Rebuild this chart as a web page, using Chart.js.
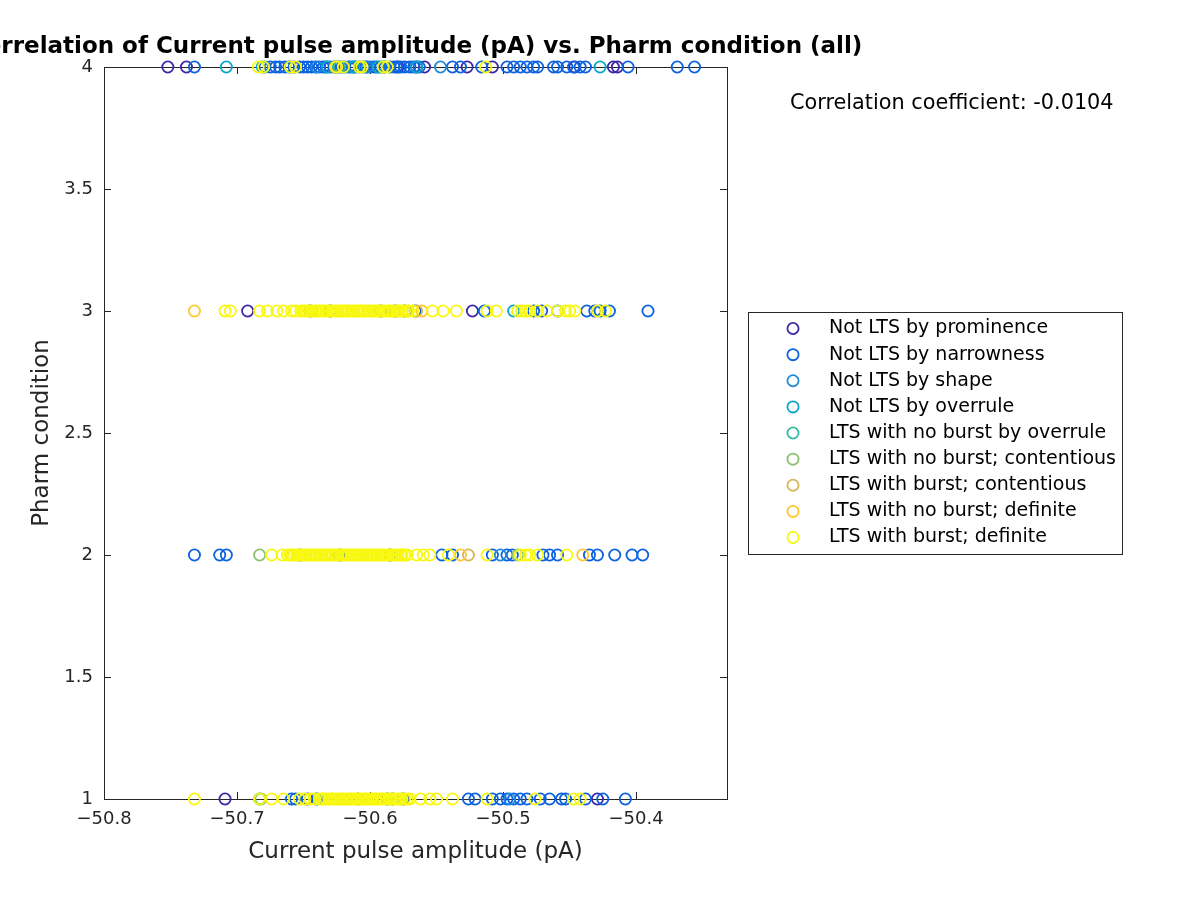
<!DOCTYPE html>
<html>
<head>
<meta charset="utf-8">
<script src="https://cdn.jsdelivr.net/npm/chart.js@4/dist/chart.umd.min.js"></script>
<style>
html,body{margin:0;padding:0;background:#fff;}
#c{display:block;}
</style>
</head>
<body>
<canvas id="c" width="1200" height="900"></canvas>
<script>
// ---------------- DATA ----------------
const seriesNames = [
  'Not LTS by prominence',
  'Not LTS by narrowness',
  'Not LTS by shape',
  'Not LTS by overrule',
  'LTS with no burst by overrule',
  'LTS with no burst; contentious',
  'LTS with burst; contentious',
  'LTS with no burst; definite',
  'LTS with burst; definite'
];
const xTicks = [-50.8, -50.7, -50.6, -50.5, -50.4];
const yTicks = [1, 1.5, 2, 2.5, 3, 3.5, 4];
const xMin = -50.8, xMax = -50.3316, yMin = 1, yMax = 4;
const correlationText = 'Correlation coefficient: -0.0104';

// points as [current pulse amplitude (pA), pharm condition]
const prominence = [
  [-50.752,4],[-50.738,4],[-50.579,4],[-50.565,4],[-50.559,4],[-50.527,4],[-50.508,4],[-50.446,4],[-50.417,4],[-50.414,4],
  [-50.692,3],[-50.523,3],
  [-50.709,1],[-50.429,1]
];
const narrowness = [
  [-50.732,4],[-50.679,4],[-50.675,4],[-50.671,4],[-50.668,4],[-50.664,4],[-50.661,4],[-50.657,4],[-50.653,4],[-50.650,4],
  [-50.647,4],[-50.644,4],[-50.641,4],[-50.638,4],[-50.635,4],[-50.633,4],[-50.630,4],[-50.627,4],[-50.624,4],[-50.621,4],
  [-50.619,4],[-50.616,4],[-50.613,4],[-50.611,4],[-50.608,4],[-50.605,4],[-50.603,4],[-50.600,4],[-50.597,4],[-50.595,4],
  [-50.592,4],[-50.589,4],[-50.585,4],[-50.582,4],[-50.580,4],[-50.577,4],[-50.574,4],[-50.570,4],[-50.567,4],[-50.563,4],
  [-50.538,4],[-50.532,4],[-50.516,4],[-50.497,4],[-50.492,4],[-50.487,4],
  [-50.482,4],[-50.477,4],[-50.474,4],[-50.462,4],[-50.459,4],[-50.452,4],[-50.447,4],[-50.442,4],[-50.438,4],[-50.406,4],
  [-50.369,4],[-50.356,4],
  [-50.645,3],[-50.630,3],[-50.592,3],[-50.581,3],[-50.574,3],[-50.566,3],[-50.514,3],[-50.477,3],[-50.471,3],[-50.459,3],
  [-50.437,3],[-50.431,3],[-50.427,3],[-50.420,3],[-50.391,3],
  [-50.732,2],[-50.713,2],[-50.708,2],[-50.653,2],[-50.623,2],[-50.585,2],[-50.546,2],[-50.538,2],[-50.508,2],[-50.497,2],
  [-50.493,2],[-50.470,2],[-50.465,2],[-50.459,2],[-50.435,2],[-50.429,2],[-50.416,2],[-50.403,2],[-50.395,2],
  [-50.659,1],[-50.656,1],[-50.647,1],[-50.640,1],[-50.587,1],[-50.583,1],[-50.575,1],[-50.526,1],[-50.521,1],[-50.508,1],
  [-50.502,1],[-50.497,1],[-50.492,1],[-50.487,1],[-50.482,1],[-50.472,1],[-50.465,1],[-50.456,1],[-50.453,1],[-50.438,1],
  [-50.425,1],[-50.408,1]
];
const shape = [
  [-50.660,4],[-50.640,4],[-50.626,4],[-50.615,4],[-50.602,4],[-50.590,4],[-50.547,4],
  [-50.502,2],
  [-50.495,1]
];
const overrule = [
  [-50.708,4],[-50.681,4],[-50.632,4],[-50.612,4],[-50.594,4],[-50.565,4],[-50.427,4],
  [-50.492,3],
  [-50.683,1]
];
const ltsNoBurstOverrule = [
  [-50.623,4],
  [-50.609,1]
];
const ltsNoBurstContentious = [
  [-50.683,2],[-50.489,2],
  [-50.682,1]
];
const ltsBurstContentious = [
  [-50.565,3],
  [-50.526,2]
];
const ltsNoBurstDefinite = [
  [-50.626,4],
  [-50.732,3],[-50.561,3],
  [-50.532,2],[-50.440,2]
];
const ltsBurstDefinite = [
  [-50.684,4],[-50.680,4],[-50.660,4],[-50.656,4],[-50.625,4],[-50.620,4],[-50.608,4],[-50.606,4],[-50.590,4],[-50.587,4],
  [-50.513,4],
  [-50.709,3],[-50.705,3],[-50.683,3],[-50.677,3],[-50.670,3],[-50.665,3],[-50.659,3],[-50.656,3],
  [-50.652,3],[-50.650,3],[-50.649,3],[-50.647,3],[-50.645,3],[-50.643,3],[-50.641,3],[-50.640,3],[-50.638,3],[-50.636,3],
  [-50.635,3],[-50.633,3],[-50.631,3],[-50.629,3],[-50.628,3],[-50.626,3],[-50.624,3],[-50.622,3],[-50.621,3],[-50.619,3],
  [-50.617,3],[-50.616,3],[-50.614,3],[-50.612,3],[-50.610,3],[-50.609,3],[-50.607,3],[-50.605,3],[-50.604,3],[-50.602,3],
  [-50.600,3],[-50.598,3],[-50.597,3],[-50.595,3],[-50.593,3],[-50.591,3],[-50.590,3],[-50.588,3],[-50.586,3],[-50.585,3],
  [-50.583,3],[-50.581,3],[-50.579,3],[-50.578,3],[-50.576,3],[-50.574,3],[-50.572,3],[-50.571,3],
  [-50.568,3],[-50.553,3],[-50.545,3],[-50.535,3],[-50.512,3],[-50.505,3],[-50.489,3],[-50.486,3],[-50.483,3],[-50.480,3],
  [-50.474,3],[-50.467,3],[-50.459,3],[-50.453,3],[-50.450,3],[-50.446,3],[-50.429,3],[-50.423,3],
  [-50.674,2],[-50.666,2],
  [-50.662,2],[-50.660,2],[-50.659,2],[-50.657,2],[-50.655,2],[-50.653,2],[-50.652,2],[-50.650,2],[-50.648,2],[-50.646,2],
  [-50.645,2],[-50.643,2],[-50.641,2],[-50.640,2],[-50.638,2],[-50.636,2],[-50.634,2],[-50.633,2],[-50.631,2],[-50.629,2],
  [-50.628,2],[-50.626,2],[-50.624,2],[-50.622,2],[-50.621,2],[-50.619,2],[-50.617,2],[-50.616,2],[-50.614,2],[-50.612,2],
  [-50.610,2],[-50.609,2],[-50.607,2],[-50.605,2],[-50.603,2],[-50.602,2],[-50.600,2],[-50.598,2],[-50.597,2],[-50.595,2],
  [-50.593,2],[-50.591,2],[-50.590,2],[-50.588,2],[-50.586,2],[-50.584,2],[-50.583,2],[-50.581,2],[-50.579,2],[-50.577,2],
  [-50.576,2],[-50.574,2],[-50.572,2],
  [-50.565,2],[-50.560,2],[-50.555,2],[-50.541,2],[-50.512,2],[-50.487,2],[-50.483,2],[-50.480,2],[-50.474,2],[-50.452,2],
  [-50.732,1],[-50.683,1],[-50.674,1],[-50.665,1],[-50.653,1],[-50.649,1],[-50.645,1],[-50.642,1],
  [-50.638,1],[-50.636,1],[-50.635,1],[-50.633,1],[-50.631,1],[-50.629,1],[-50.628,1],[-50.626,1],[-50.624,1],[-50.622,1],
  [-50.621,1],[-50.619,1],[-50.617,1],[-50.615,1],[-50.614,1],[-50.612,1],[-50.610,1],[-50.609,1],[-50.607,1],[-50.605,1],
  [-50.603,1],[-50.602,1],[-50.600,1],[-50.598,1],[-50.596,1],[-50.595,1],[-50.593,1],[-50.591,1],[-50.590,1],[-50.588,1],
  [-50.586,1],[-50.584,1],[-50.583,1],[-50.581,1],[-50.579,1],[-50.577,1],[-50.576,1],[-50.574,1],[-50.572,1],[-50.570,1],
  [-50.562,1],[-50.555,1],[-50.550,1],[-50.538,1],[-50.512,1],[-50.476,1],[-50.447,1],[-50.442,1]
];
const seriesPoints = [prominence, narrowness, shape, overrule, ltsNoBurstOverrule,
  ltsNoBurstContentious, ltsBurstContentious, ltsNoBurstDefinite, ltsBurstDefinite];

// ---------------- STYLE ----------------
const seriesColors = ['#3e26a8','#0c62e0','#1d8bd9','#0aa8c8','#35b9a0','#8cc272','#d8b65a','#fdc831','#f8f80f'];
const FONT = "'DejaVu Sans', sans-serif";
const INK = '#262626';
const PL = 104, PR = 727, PT = 67, PB = 799;

const datasets = seriesPoints.map((pts, i) => ({
  label: seriesNames[i],
  data: pts.map(p => ({x: p[0], y: p[1]})),
  borderColor: seriesColors[i],
  backgroundColor: 'rgba(0,0,0,0)',
  pointRadius: 5.6,
  pointBorderWidth: 1.8,
  pointHoverRadius: 5.6,
  pointStyle: 'circle',
  showLine: false,
  clip: false,
  order: seriesNames.length - i
}));

const decor = {
  id: 'decor',
  beforeDatasetsDraw(chart) {
    const ctx = chart.ctx, a = chart.chartArea;
    const xs = chart.scales.x, ys = chart.scales.y;
    ctx.save();
    ctx.strokeStyle = INK;
    ctx.lineWidth = 1;
    ctx.strokeRect(Math.round(a.left) + 0.5, Math.round(a.top) + 0.5, Math.round(a.right - a.left), Math.round(a.bottom - a.top));
    ctx.beginPath();
    xTicks.forEach(v => {
      const px = Math.round(xs.getPixelForValue(v)) + 0.5;
      ctx.moveTo(px, a.bottom); ctx.lineTo(px, a.bottom - 7);
      ctx.moveTo(px, a.top); ctx.lineTo(px, a.top + 7);
    });
    yTicks.forEach(v => {
      const py = Math.round(ys.getPixelForValue(v)) + 0.5;
      ctx.moveTo(a.left, py); ctx.lineTo(a.left + 7, py);
      ctx.moveTo(a.right, py); ctx.lineTo(a.right - 7, py);
    });
    ctx.stroke();
    ctx.restore();
  },
  afterDraw(chart) {
    const ctx = chart.ctx, a = chart.chartArea;
    ctx.save();
    // title
    ctx.fillStyle = '#000';
    ctx.font = 'bold 23px ' + FONT;
    ctx.textAlign = 'center';
    ctx.textBaseline = 'middle';
    ctx.fillText('Correlation of Current pulse amplitude (pA) vs. Pharm condition (all)', (a.left + a.right) / 2, 47);
    // axis labels
    ctx.fillStyle = INK;
    ctx.font = '23px ' + FONT;
    ctx.fillText('Current pulse amplitude (pA)', (a.left + a.right) / 2, 852);
    ctx.save();
    ctx.translate(42, (a.top + a.bottom) / 2);
    ctx.rotate(-Math.PI / 2);
    ctx.fillText('Pharm condition', 0, 0);
    ctx.restore();
    // correlation text
    ctx.fillStyle = '#000';
    ctx.font = '20.8px ' + FONT;
    ctx.textAlign = 'left';
    ctx.fillText(correlationText, 790, 104);
    // legend
    const lx = 748, ly = 312, lw = 374, lh = 242;
    ctx.fillStyle = '#fff';
    ctx.fillRect(lx, ly, lw, lh);
    ctx.strokeStyle = INK;
    ctx.lineWidth = 1;
    ctx.strokeRect(lx + 0.5, ly + 0.5, lw, lh);
    seriesNames.forEach((name, i) => {
      const y = 328.5 + i * 26.125;
      ctx.beginPath();
      ctx.strokeStyle = seriesColors[i];
      ctx.lineWidth = 1.8;
      ctx.arc(793, y, 5.6, 0, Math.PI * 2);
      ctx.stroke();
      ctx.fillStyle = '#000';
      ctx.font = '19px ' + FONT;
      ctx.textAlign = 'left';
      ctx.textBaseline = 'middle';
      ctx.fillText(name, 829, y);
    });
    ctx.restore();
  }
};

new Chart(document.getElementById('c'), {
  type: 'scatter',
  data: { datasets },
  options: {
    responsive: false,
    devicePixelRatio: 1,
    animation: false,
    events: [],
    layout: { padding: { left: 0, top: PT, right: 1200 - PR, bottom: 0 } },
    plugins: { legend: { display: false }, title: { display: false }, tooltip: { enabled: false } },
    scales: {
      x: {
        type: 'linear', position: 'bottom', min: xMin, max: xMax,
        afterBuildTicks: s => { s.ticks = xTicks.map(v => ({ value: v })); },
        afterFit: s => { s.height = 900 - PB; },
        grid: { display: false, drawTicks: false },
        border: { display: false },
        ticks: {
          color: INK, padding: 10, maxRotation: 0, autoSkip: false,
          font: { family: FONT, size: 18 },
          callback: v => v.toFixed(1).replace('-', '\u2212')
        }
      },
      y: {
        type: 'linear', position: 'left', min: yMin, max: yMax,
        afterBuildTicks: s => { s.ticks = yTicks.map(v => ({ value: v })); },
        afterFit: s => { s.width = PL; },
        grid: { display: false, drawTicks: false },
        border: { display: false },
        ticks: {
          color: INK, padding: 11, autoSkip: false,
          font: { family: FONT, size: 18 },
          callback: v => String(v)
        }
      }
    }
  },
  plugins: [decor]
});
</script>
</body>
</html>
